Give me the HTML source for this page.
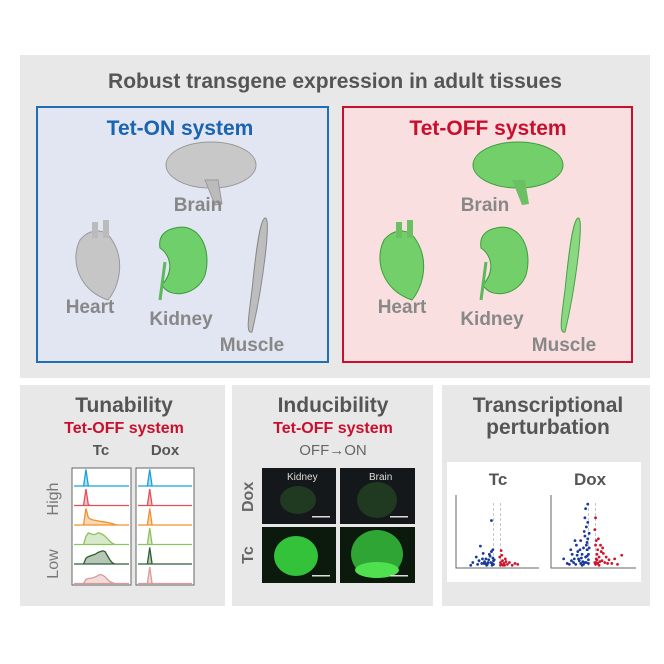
<!DOCTYPE html>
<html><head><meta charset="utf-8"><style>
body{margin:0;width:664px;height:664px;background:#fff;font-family:"Liberation Sans",sans-serif;overflow:hidden;position:relative}
.abs{position:absolute}
.t{position:absolute;white-space:nowrap;transform:translateX(-50%);font-weight:bold}
</style></head><body>
<div class="abs" style="left:20px;top:55px;width:630px;height:323px;background:#e8e8e8"></div>
<div class="t" style="left:335px;top:70px;font-size:21px;color:#555">Robust transgene expression in adult tissues</div>
<div class="abs" style="left:36px;top:106px;width:289px;height:253px;border:2px solid #1f6fb5;background:#e2e5f2"></div>
<div class="abs" style="left:342px;top:106px;width:287px;height:253px;border:2px solid #c8102e;background:#fadfe0"></div>
<div class="t" style="left:180px;top:117px;font-size:21px;color:#1a64b0">Tet-ON system</div>
<div class="t" style="left:488px;top:117px;font-size:21px;color:#c8102e">Tet-OFF system</div>
<svg class="abs" style="left:0;top:0" width="664" height="380">
 <g><ellipse cx="211" cy="165" rx="45" ry="23" fill="#c8c8c8" stroke="#999"/><path d="M205 180 L215 205 L222 204 L218 180Z" fill="#bbb" stroke="#999"/></g>
 <g><path d="M80 240 C70 260,78 290,108 300 C120 285,125 260,112 240 C105 228,90 228,80 240Z" fill="#c6c6c6" stroke="#999"/><rect x="92" y="222" width="6" height="16" fill="#bbb"/><rect x="103" y="220" width="6" height="18" fill="#bbb"/></g>
 <g><path d="M175 228 C200 222,212 250,205 275 C198 295,170 300,162 285 C175 270,170 255,160 248 C158 236,165 230,175 228Z" fill="#6fcf6a" stroke="#3a9a3a"/><path d="M165 262 L160 300" stroke="#5cb85c" stroke-width="3"/></g>
 <g><path d="M265 218 C272 216,262 290,252 332 C246 334,248 320,252 290 C256 250,260 220,265 218Z" fill="#bdbdbd" stroke="#888"/></g>
 <g><ellipse cx="518" cy="165" rx="45" ry="23" fill="#72cf6a" stroke="#3f9c3f"/><path d="M512 180 L522 205 L529 204 L525 180Z" fill="#6cc064"/></g>
 <g><path d="M384 240 C374 260,382 290,412 300 C424 285,429 260,416 240 C409 228,394 228,384 240Z" fill="#72cf6a" stroke="#3f9c3f"/><rect x="396" y="222" width="6" height="16" fill="#6cc064"/><rect x="407" y="220" width="6" height="18" fill="#6cc064"/></g>
 <g><path d="M496 228 C521 222,533 250,526 275 C519 295,491 300,483 285 C496 270,491 255,481 248 C479 236,486 230,496 228Z" fill="#72cf6a" stroke="#3f9c3f"/><path d="M486 262 L481 300" stroke="#5cb85c" stroke-width="3"/></g>
 <g><path d="M578 218 C585 216,575 290,565 332 C559 334,561 320,565 290 C569 250,573 220,578 218Z" fill="#8ad882" stroke="#4aa04a"/></g>
</svg>
<div class="t" style="left:198px;top:195px;font-size:19px;color:#888">Brain</div>
<div class="t" style="left:90px;top:297px;font-size:19px;color:#888">Heart</div>
<div class="t" style="left:181px;top:309px;font-size:19px;color:#888">Kidney</div>
<div class="t" style="left:252px;top:335px;font-size:19px;color:#888">Muscle</div>
<div class="t" style="left:485px;top:195px;font-size:19px;color:#888">Brain</div>
<div class="t" style="left:402px;top:297px;font-size:19px;color:#888">Heart</div>
<div class="t" style="left:492px;top:309px;font-size:19px;color:#888">Kidney</div>
<div class="t" style="left:564px;top:335px;font-size:19px;color:#888">Muscle</div>

<div class="abs" style="left:20px;top:385px;width:205px;height:221px;background:#e8e8e8"></div>
<div class="abs" style="left:232px;top:385px;width:201px;height:221px;background:#e8e8e8"></div>
<div class="abs" style="left:442px;top:385px;width:208px;height:221px;background:#e8e8e8"></div>

<div class="t" style="left:124px;top:394px;font-size:21px;color:#555">Tunability</div>
<div class="t" style="left:124px;top:420px;font-size:16px;color:#c8102e">Tet-OFF system</div>
<div class="t" style="left:101px;top:442px;font-size:15px;color:#555">Tc</div>
<div class="t" style="left:165px;top:442px;font-size:15px;color:#555">Dox</div>
<div class="abs" style="left:36px;top:490px;font-size:16px;color:#777;transform:rotate(-90deg);transform-origin:center;width:36px;text-align:center">High</div>
<div class="abs" style="left:38px;top:555px;font-size:16px;color:#777;transform:rotate(-90deg);width:32px;text-align:center">Low</div>
<svg class="abs" id="hist" style="left:0;top:0" width="230" height="610"></svg>

<div class="t" style="left:333px;top:394px;font-size:21px;color:#555">Inducibility</div>
<div class="t" style="left:333px;top:420px;font-size:16px;color:#c8102e">Tet-OFF system</div>
<div class="t" style="left:333px;top:442px;font-size:15px;color:#666;font-weight:normal">OFF→ON</div>
<div class="abs" style="left:234px;top:488px;font-size:16px;font-weight:bold;color:#666;transform:rotate(-90deg);width:30px;text-align:center">Dox</div>
<div class="abs" style="left:234px;top:546px;font-size:16px;font-weight:bold;color:#666;transform:rotate(-90deg);width:30px;text-align:center">Tc</div>
<svg class="abs" style="left:262px;top:468px" width="154" height="118">
 <g><rect x="0" y="0" width="74" height="56" fill="#15181a"/><ellipse cx="36" cy="32" rx="18" ry="14" fill="#1f3a20"/><text x="25" y="12" fill="#ddd" font-size="10" font-family="Liberation Sans">Kidney</text><rect x="50" y="48" width="18" height="1.5" fill="#ddd"/></g>
 <g><rect x="78" y="0" width="75" height="56" fill="#15181a"/><ellipse cx="115" cy="32" rx="20" ry="18" fill="#1f3a20"/><text x="107" y="12" fill="#ddd" font-size="10" font-family="Liberation Sans">Brain</text><rect x="128" y="48" width="18" height="1.5" fill="#ddd"/></g>
 <g><rect x="0" y="59" width="74" height="56" fill="#0c1a0e"/><ellipse cx="34" cy="88" rx="22" ry="20" fill="#33c23a"/><rect x="50" y="107" width="18" height="1.5" fill="#ddd"/></g>
 <g><rect x="78" y="59" width="75" height="56" fill="#0c1a0e"/><ellipse cx="115" cy="86" rx="26" ry="24" fill="#2fa535"/><ellipse cx="115" cy="102" rx="22" ry="8" fill="#4fe050"/><rect x="128" y="107" width="18" height="1.5" fill="#ddd"/></g>
</svg>

<div class="t" style="left:548px;top:395px;font-size:21px;color:#555;text-align:center;line-height:22px">Transcriptional<br>perturbation</div>
<div class="abs" style="left:447px;top:462px;width:194px;height:120px;background:#fff"></div>
<div class="t" style="left:498px;top:470px;font-size:17px;color:#555">Tc</div>
<div class="t" style="left:590px;top:470px;font-size:17px;color:#555">Dox</div>
<svg class="abs" id="volc" style="left:0;top:0" width="664" height="610"></svg>

<script>
// Histogram data (relative counts per bin, 24 bins)
const rowColors=["#1aa0d8","#e0505a","#f0902a","#8dc060","#2f5e35","#d99a98"];
const tcRows=[
 [0,0,0,0,0,1,0,0,0,0,0,0,0,0,0,0,0,0,0,0,0,0,0,0],
 [0,0,0,0,0,1,0.04,0,0,0,0,0,0,0,0,0,0,0,0,0,0,0,0,0],
 [0,0,0,0,0,1,0.45,0.35,0.3,0.28,0.25,0.22,0.2,0.18,0.15,0.12,0.08,0.04,0,0,0,0,0,0],
 [0,0,0,0,0,0.5,0.7,0.65,0.6,0.62,0.7,0.68,0.6,0.5,0.35,0.2,0.08,0,0,0,0,0,0,0],
 [0,0,0,0,0,0.35,0.45,0.5,0.55,0.6,0.7,0.75,0.8,0.75,0.5,0.25,0.08,0,0,0,0,0,0,0],
 [0,0,0,0,0,0.25,0.3,0.32,0.35,0.4,0.48,0.55,0.5,0.4,0.25,0.12,0.05,0,0,0,0,0,0,0]];
const doxRows=[
 [0,0,0,0,0,1,0,0,0,0,0,0,0,0,0,0,0,0,0,0,0,0,0,0],
 [0,0,0,0,0,1,0,0,0,0,0,0,0,0,0,0,0,0,0,0,0,0,0,0],
 [0,0,0,0,0,1,0,0,0,0,0,0,0,0,0,0,0,0,0,0,0,0,0,0],
 [0,0,0,0,0,1,0,0,0,0,0,0,0,0,0,0,0,0,0,0,0,0,0,0],
 [0,0,0,0,0,1,0,0,0,0,0,0,0,0,0,0,0,0,0,0,0,0,0,0],
 [0,0,0,0,0,1,0,0,0,0,0,0,0,0,0,0,0,0,0,0,0,0,0,0]];
// Volcano data: log2FC, -log10 p
const tcBlueX=[-3.5,-3,-2.6,-2.2,-2,-1.8,-1.6,-1.4,-1.2,-1,-0.9,-0.8,-0.7,-0.6,-0.5,-2.4,-1.5,-0.8,-3.8,-0.4,-1.1,-0.6,-2.8,-1.9,-1.3,-0.7,-0.5,-2.1,-1.7];
const tcBlueY=[0.6,1.2,0.8,0.5,1.6,0.7,1.0,0.4,0.9,1.3,0.6,1.8,0.5,1.1,0.8,2.4,0.3,5.2,0.3,0.9,1.5,2.0,0.4,0.5,0.6,0.3,0.4,1.0,0.5];
const tcRedX=[0.4,0.5,0.6,0.8,1,1.2,1.5,1.8,2.2,2.6,0.7,0.9,1.3,3,0.5,0.6,1.1];
const tcRedY=[1.2,0.6,1.9,0.8,0.5,1.0,0.4,0.6,0.3,0.5,1.4,0.3,0.7,0.4,0.3,0.4,0.3];
const doxBlueX=[-4,-3.5,-3,-2.8,-2.5,-2.2,-2,-1.8,-1.6,-1.4,-1.2,-1,-0.9,-0.8,-0.7,-0.6,-0.5,-0.4,-2.6,-2.1,-1.7,-1.3,-1.1,-0.9,-0.7,-0.6,-0.5,-1.5,-0.8,-0.6,-3.2,-2.4,-1.9,-1.0,-2.3,-1.6,-1.2,-0.8,-0.5,-0.4,-2.9,-1.4,-1.0,-0.7];
const doxBlueY=[1.0,0.5,2.0,1.5,1.0,2.5,1.8,0.8,3.0,1.5,2.2,3.5,1.2,4.5,2.8,5.0,1.5,3.8,0.6,1.4,2.0,0.7,4.0,6.5,2.0,3.2,0.9,1.1,2.5,7.0,0.4,3.0,1.0,5.5,0.4,0.5,0.4,0.6,0.5,2.2,0.8,0.3,0.6,1.3];
const doxRedX=[0.4,0.5,0.6,0.7,0.8,1,1.2,1.4,1.6,1.8,2,2.4,2.8,3.2,3.6,0.5,0.6,0.9,1.1,1.3,0.4,0.7,1.5,2.2,4.2,0.5,0.8,1.0,0.6];
const doxRedY=[4.2,2.5,3.0,1.5,2.0,1.2,2.5,0.8,1.6,0.6,1.2,0.9,0.5,1.0,0.4,5.5,1.0,3.2,0.7,1.8,0.6,0.9,2.2,0.5,1.4,0.4,0.5,0.3,0.6];

const NS="http://www.w3.org/2000/svg";
function mk(p,tag,a){const e=document.createElementNS(NS,tag);for(const k in a)e.setAttribute(k,a[k]);p.appendChild(e);return e;}
const hist=document.getElementById('hist');
function drawBox(x0,w,rows,name){
 const top=468,h=117,rh=h/6;
 const r=mk(hist,'rect',{x:x0,y:top,width:w,height:h,fill:'#fff',stroke:'#666','stroke-width':1});
 
 
 rows.forEach((vals,i)=>{
  const base=top+rh*(i+1)-1.5, xs=b=>x0+2+b*(w-4)/(vals.length-1), ys=v=>base-v*(rh-3);
  let d=`M${xs(0)},${base}`;vals.forEach((v,b)=>d+=` L${xs(b)},${ys(v)}`);d+=` L${xs(vals.length-1)},${base}Z`;
  const p=mk(hist,'path',{d:d,fill:rowColors[i],'fill-opacity':0.35,stroke:rowColors[i],'stroke-width':1.3});
  
  
 });
}
drawBox(72,59,tcRows,'tc-histogram');
drawBox(136,58,doxRows,'dox-histogram');

const volc=document.getElementById('volc');
function drawVolcano(x0,x1,zeroX,bx,by,rx,ry,name){
 const yb=568,yt=495,xsc=v=>zeroX+v*(x1-x0)/12,ysc=v=>yb-v*(yb-yt)/8;
 const ax=mk(volc,'path',{d:`M${x0},${yt} L${x0},${yb} L${x1},${yb}`,fill:'none',stroke:'#666','stroke-width':1});
 
 
 [-0.5,0.5].forEach(v=>{const l=mk(volc,'line',{x1:xsc(v),x2:xsc(v),y1:yt+8,y2:yb,stroke:'#bbb','stroke-dasharray':'3,2','stroke-width':0.8});
  
  });
 bx.forEach((v,i)=>{const c=mk(volc,'circle',{cx:xsc(v),cy:ysc(by[i]),r:1.4,fill:'#1a3a9a'});
  
  });
 rx.forEach((v,i)=>{const c=mk(volc,'circle',{cx:xsc(v),cy:ysc(ry[i]),r:1.4,fill:'#d0142c'});
  
  });
}
drawVolcano(456,539,497,tcBlueX,tcBlueY,tcRedX,tcRedY,'tc-volcano');
drawVolcano(551,636,592,doxBlueX,doxBlueY,doxRedX,doxRedY,'dox-volcano');
</script>
</body></html>
